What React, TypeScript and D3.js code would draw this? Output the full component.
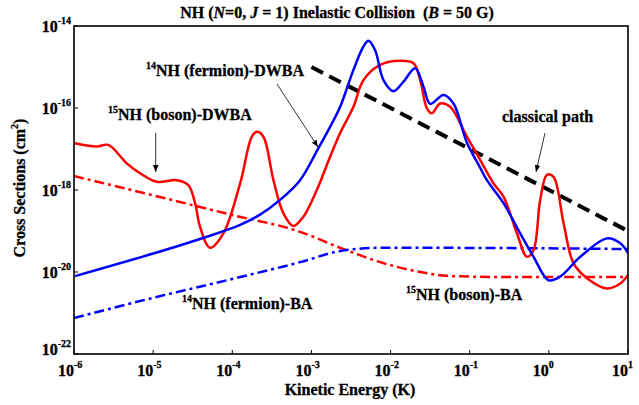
import React from 'react';
import * as d3 from 'd3';

// values are log10 exponents: [log10(E / K), log10(sigma / cm^2)]
const redDWBA = [
  [-5.987, -16.86], [-5.713, -16.94], [-5.566, -16.9], [-5.334, -17.35], [-5.166, -17.59],
  [-4.954, -17.8], [-4.702, -17.76], [-4.555, -17.88], [-4.47, -18.32], [-4.407, -18.9],
  [-4.281, -19.41], [-4.113, -19.06], [-3.901, -17.84], [-3.753, -16.7], [-3.69, -16.58],
  [-3.607, -16.7], [-3.48, -17.76], [-3.354, -18.57], [-3.228, -18.88], [-3.101, -18.65],
  [-2.932, -18.0], [-2.764, -17.19], [-2.637, -16.61], [-2.469, -15.97], [-2.343, -15.32],
  [-2.131, -14.95], [-1.879, -14.85], [-1.71, -14.91], [-1.626, -15.32], [-1.541, -16.01],
  [-1.478, -16.13], [-1.373, -15.89], [-1.247, -15.97], [-1.035, -16.7], [-0.867, -17.27],
  [-0.699, -17.84], [-0.573, -18.16], [-0.403, -19.06], [-0.277, -19.63], [-0.193, -19.46],
  [-0.109, -18.24], [-0.024, -17.63], [0.059, -17.68], [0.186, -18.81], [0.312, -19.79],
  [0.482, -20.15], [0.734, -20.4], [0.903, -20.28], [1.0, -20.07],
];

const blueDWBA = [
  [-5.987, -20.1], [-4.913, -19.5], [-4.322, -19.14], [-3.901, -18.85], [-3.649, -18.6],
  [-3.396, -18.24], [-3.143, -17.76], [-2.912, -16.98], [-2.764, -16.46], [-2.637, -15.97],
  [-2.469, -15.07], [-2.343, -14.5], [-2.279, -14.36], [-2.195, -14.59], [-2.09, -15.32],
  [-1.963, -15.59], [-1.837, -15.36], [-1.689, -15.03], [-1.584, -15.48], [-1.499, -15.9],
  [-1.331, -15.68], [-1.205, -15.89], [-1.035, -16.85], [-0.867, -17.46], [-0.783, -17.76],
  [-0.573, -18.32], [-0.362, -19.06], [-0.193, -19.63], [-0.004, -20.2], [0.144, -20.11],
  [0.397, -19.63], [0.734, -19.18], [0.903, -19.3], [1.0, -19.54],
];

const redBA = [
  [-6, -17.66], [-5, -18.13], [-4, -18.61], [-3.143, -19.02], [-2.637, -19.41],
  [-2.131, -19.76], [-1.626, -20.0], [-1.246, -20.1], [-0.614, -20.12], [1.0, -20.12],
];

const blueBA = [
  [-6, -21.12], [-5, -20.63], [-4, -20.17], [-3.143, -19.76], [-2.637, -19.49],
  [-2.131, -19.41], [-1.626, -19.41], [1.0, -19.44],
];

const classical = [[-3, -15], [1, -19]];

const xTicks = [-6, -5, -4, -3, -2, -1, 0, 1];
const yTicks = [-14, -16, -18, -20, -22];

const W = 639;
const H = 405;
const left = 74, right = 628, top = 26, bottom = 354;
const font = '"Liberation Serif", "Times New Roman", serif';

const x = d3.scaleLog().domain([1e-6, 10]).range([left, right]);
const y = d3.scaleLog().domain([1e-22, 1e-14]).range([bottom, top]);

const line = d3.line<number[]>()
  .x(d => x(10 ** d[0]))
  .y(d => y(10 ** d[1]))
  .curve(d3.curveCatmullRom.alpha(0.5));

const baLine = d3.line<number[]>()
  .x(d => x(10 ** d[0]))
  .y(d => y(10 ** d[1]))
  .curve(d3.curveMonotoneX);

const straight = d3.line<number[]>()
  .x(d => x(10 ** d[0]))
  .y(d => y(10 ** d[1]));

// slightly heavier bold, like the original's Times Bold
const txt = { fontSize: 16, fontWeight: 'bold', fontFamily: font, stroke: '#000', strokeWidth: 0.3 } as const;

function Label({ x, y, sup, text }: { x: number; y: number; sup: string; text: string }) {
  return (
    <text x={x} y={y} {...txt}>
      <tspan fontSize={10} dy={-7}>{sup}</tspan>
      <tspan dy={7}>{text}</tspan>
    </text>
  );
}

function Arrow({ x1, y1, x2, y2 }: { x1: number; y1: number; x2: number; y2: number }) {
  return <line x1={x1} y1={y1} x2={x2} y2={y2} stroke="#000" strokeWidth={0.8} markerEnd="url(#arrow)" />;
}

export default function App() {
  return (
    <svg width={W} height={H} style={{ position: 'absolute', left: 0, top: 0, background: '#fff' }}>
      <defs>
        <clipPath id="plot">
          <rect x={left} y={top} width={right - left} height={bottom - top} />
        </clipPath>
        <marker id="arrow" viewBox="0 0 10 10" refX={10} refY={5} markerWidth={7} markerHeight={7}
          markerUnits="userSpaceOnUse" orient="auto">
          <path d="M0,1 L10,5 L0,9 Z" fill="#000" />
        </marker>
      </defs>

      <text x={337} y={18} textAnchor="middle" {...txt} style={{ whiteSpace: 'pre' }}>
        NH (<tspan fontStyle="italic">N</tspan>=0, <tspan fontStyle="italic">J</tspan> = 1) Inelastic Collision  (<tspan fontStyle="italic">B</tspan> = 50 G)
      </text>

      <g clipPath="url(#plot)" fill="none">
        <path d={baLine(redBA) ?? ''} stroke="#ff0000" strokeWidth={2.5} strokeDasharray="10,4,3,4" />
        <path d={baLine(blueBA) ?? ''} stroke="#0000ff" strokeWidth={2.5} strokeDasharray="10,4,3,4" />
        <path d={straight(classical) ?? ''} stroke="#000" strokeWidth={4} strokeDasharray="13,7" />
        <path d={line(redDWBA) ?? ''} stroke="#ff0000" strokeWidth={2.5} />
        <path d={line(blueDWBA) ?? ''} stroke="#0000ff" strokeWidth={2.5} />
      </g>

      <rect x={left} y={top} width={right - left} height={bottom - top} fill="none" stroke="#000" strokeWidth={1.6} />

      {xTicks.map(t => (
        <g key={t}>
          <line x1={x(10 ** t)} x2={x(10 ** t)} y1={bottom} y2={bottom - 4} stroke="#000" strokeWidth={1} />
          <text x={x(10 ** t)} y={376} textAnchor="end" {...txt}>10</text>
          <text x={x(10 ** t)} y={368} {...txt} fontSize={10}>{t}</text>
        </g>
      ))}

      {yTicks.map(t => (
        <g key={t}>
          <line x1={left} x2={left + 4} y1={y(10 ** t)} y2={y(10 ** t)} stroke="#000" strokeWidth={1} />
          <text x={71} y={y(10 ** t) + (t === -22 ? 1 : 6)} textAnchor="end" {...txt}>
            10<tspan fontSize={10} dy={-8}>{t}</tspan>
          </text>
        </g>
      ))}

      <text x={350} y={395} textAnchor="middle" {...txt}>Kinetic Energy (K)</text>
      <text transform="translate(25,188) rotate(-90)" textAnchor="middle" {...txt}>
        Cross Sections (cm<tspan fontSize={10} dy={-7}>2</tspan><tspan dy={7}>)</tspan>
      </text>

      <Label x={146} y={76} sup="14" text="NH (fermion)-DWBA" />
      <Label x={108} y={120} sup="15" text="NH (boson)-DWBA" />
      <Label x={182} y={309} sup="14" text="NH (fermion)-BA" />
      <Label x={406} y={300} sup="15" text="NH (boson)-BA" />
      <text x={502} y={122} {...txt}>classical path</text>

      <Arrow x1={155.7} y1={133} x2={155.7} y2={172} />
      <Arrow x1={277} y1={84} x2={318} y2={147} />
      <Arrow x1={545} y1={133} x2={536} y2={172} />
    </svg>
  );
}
